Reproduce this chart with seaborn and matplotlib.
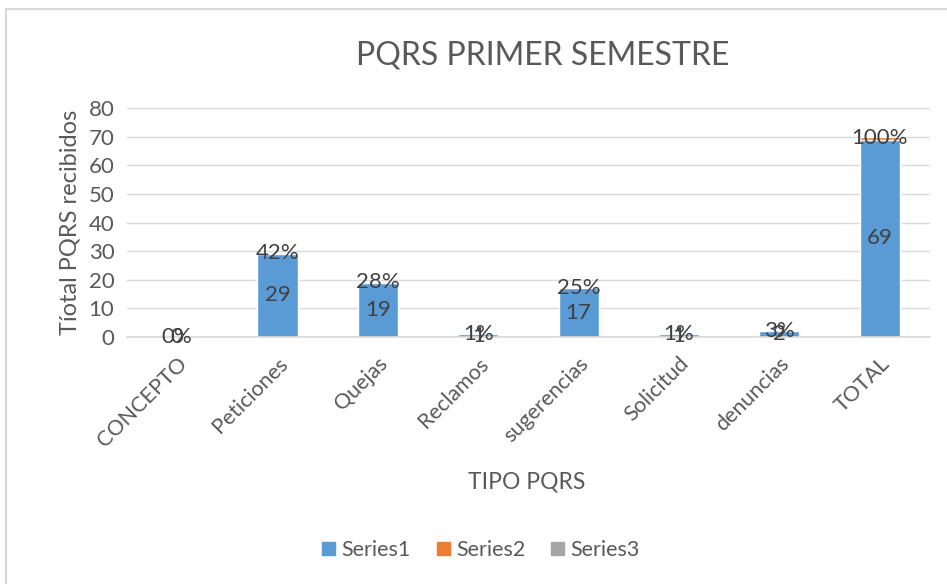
import matplotlib
matplotlib.use("Agg")
import matplotlib.pyplot as plt
import matplotlib.patches as mpatches
import pandas as pd
import seaborn as sns

# data
categorias = ["CONCEPTO", "Peticiones", "Quejas", "Reclamos",
              "sugerencias", "Solicitud", "denuncias", "TOTAL"]
series1 = [0, 29, 19, 1, 17, 1, 2, 69]
series2 = [0.0, 0.42, 0.28, 0.01, 0.25, 0.01, 0.03, 1.00]
series3 = [0, 0, 0, 0, 0, 0, 0, 0]

azul = "#5b9bd5"
naranja = "#ed7d31"
gris = "#a5a5a5"
texto = "#595959"
etiqueta = "#404040"

sns.set_theme(style="white")
plt.rcParams["font.family"] = ["Lato", "DejaVu Sans"]

df = pd.DataFrame({"tipo": categorias, "s1": series1, "s2": series2})
df["apilado"] = df["s1"] + df["s2"]

fig = plt.figure(figsize=(9.47, 5.84), dpi=100)
ax = fig.add_axes([0.134, 0.423, 0.848, 0.392])

# stacked columns: total height in orange, Series1 on top of it in blue
sns.barplot(data=df, x="tipo", y="apilado", color=naranja, width=0.4,
            saturation=1, ax=ax)
sns.barplot(data=df, x="tipo", y="s1", color=azul, width=0.4,
            saturation=1, ax=ax)

for i, (v, p) in enumerate(zip(series1, series2)):
    ax.text(i, v / 2, f"{v}", ha="center", va="center", fontsize=16,
            color=etiqueta)
    ax.text(i, v + p / 2, f"{p:.0%}", ha="center", va="center", fontsize=16,
            color=etiqueta)

ax.set_ylim(0, 80)
ax.set_xlim(-0.5, 7.5)
ax.set_yticks(range(0, 81, 10))
ax.yaxis.grid(True, color="#d9d9d9", linewidth=1)
ax.set_axisbelow(True)
for s in ["top", "right", "left"]:
    ax.spines[s].set_visible(False)
ax.spines["bottom"].set_color("#d9d9d9")
ax.tick_params(axis="both", length=0, labelsize=16, colors=texto)
ax.tick_params(axis="y", pad=9)
ax.tick_params(axis="x", pad=12)
ax.set_xticks(range(len(categorias)))
ax.set_xticklabels(categorias, rotation=45, ha="right",
                   rotation_mode="anchor", fontsize=15.5, color=texto)

ax.set_ylabel("Tíotal PQRS recibidos", fontsize=17, color=texto, labelpad=6)
ax.set_xlabel("")
fig.text(0.556, 0.175, "TIPO PQRS", ha="center", va="center",
         fontsize=16.5, color=texto)
fig.text(0.573, 0.905, "PQRS PRIMER SEMESTRE", ha="center", va="center",
         fontsize=23, color=texto)

handles = [mpatches.Patch(color=azul, label="Series1"),
           mpatches.Patch(color=naranja, label="Series2"),
           mpatches.Patch(color=gris, label="Series3")]
fig.legend(handles=handles, loc="center", bbox_to_anchor=(0.508, 0.058),
           ncol=3, frameon=False, fontsize=15.5, handlelength=0.6,
           handleheight=0.6, handletextpad=0.3, columnspacing=1.2,
           labelcolor=texto)

# chart area border
fig.patches.append(mpatches.Rectangle((6 / 947, -0.1), 2, 1 - 9 / 584 + 0.1,
                                      transform=fig.transFigure, fill=False,
                                      edgecolor="#d9d9d9", linewidth=1.5))

fig.savefig("out.png", dpi=100)
